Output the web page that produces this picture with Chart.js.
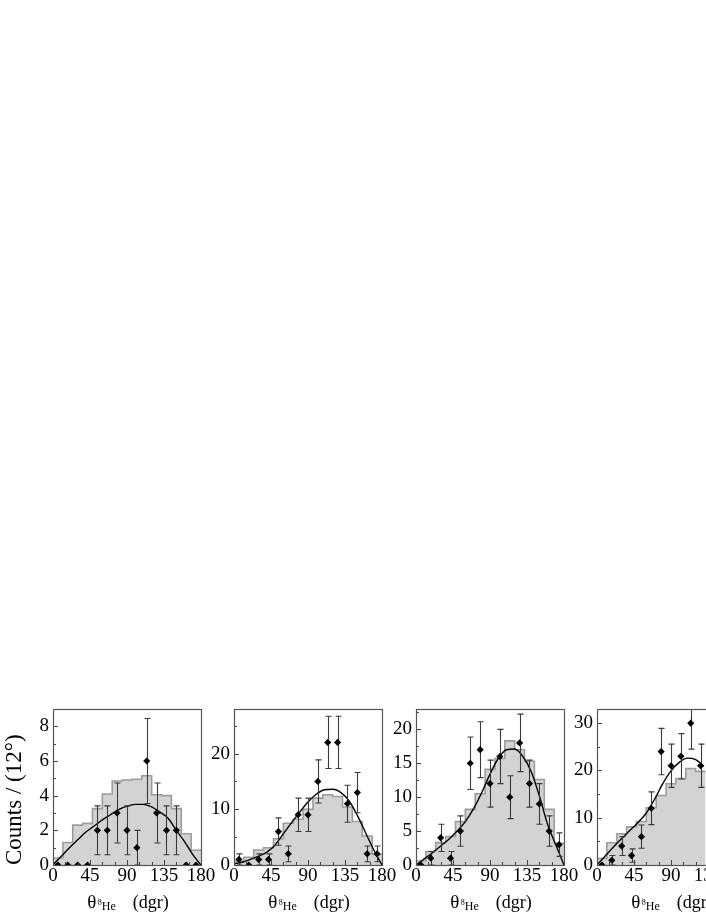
<!DOCTYPE html>
<html><head><meta charset="utf-8">
<script src="https://cdn.jsdelivr.net/npm/chart.js@4/dist/chart.umd.min.js"></script>
<style>
html,body{margin:0;padding:0;background:#fff;width:706px;height:913px;overflow:hidden;position:relative;}
canvas{position:absolute;}
</style></head><body>
<canvas id="c1"></canvas><canvas id="c2"></canvas><canvas id="c3"></canvas><canvas id="c4"></canvas>
<script>
// ---- shared axes ----
const binEdges = [0,12,24,36,48,60,72,84,96,108,120,132,144,156,168,180];
const pointAngles = [6,18,30,42,54,66,78,90,102,114,126,138,150,162,174];
const fitAngles = [0,10,20,30,40,50,60,70,80,90,100,110,120,130,140,150,160,170,180];
const xTickLabels = [0,45,90,135,180];
const yAxisTitle = 'Counts / (12°)';
const xTitleMain = 'θ';
const xTitleSup = '8';
const xTitleSub = 'He';
const xTitleUnit = '(dgr)';

// ---- panel 1 ----
const hist1 = [0.4,1.3,2.3,2.4,3.25,4.1,4.85,4.9,4.95,5.15,4.05,4.0,3.25,1.8,0.85];
const counts1 = [0,0,0,0,2,2,3,2,1,6,3,2,2,0,0];
const err1 = [0,0,0,0,1.41,1.41,1.73,1.41,1,2.45,1.73,1.41,1.41,0,0];
const fit1 = [0,0.5,1.0,1.45,1.9,2.25,2.6,2.9,3.2,3.4,3.5,3.5,3.35,3.05,2.7,2.0,1.35,0.6,0];
const yTicks1 = [0,2,4,6,8];
// ---- panel 2 ----
const hist2 = [0.6,1.4,2.7,3.1,4.7,7.5,8.2,10.0,12.0,12.6,12.3,10.4,7.8,5.2,1.9];
const counts2 = [1,0,1,1,6,2,9,9,15,22,22,11,13,2,2];
const err2 = [1,0,1,1,2.45,1.41,3,3,3.87,4.69,4.69,3.32,3.61,1.41,1.41];
const fit2 = [0.2,0.5,1.0,1.6,2.3,3.6,5.6,7.6,9.5,11.3,12.7,13.5,13.6,13.0,11.5,8.9,5.8,2.7,0];
const yTicks2 = [0,10,20];
// ---- panel 3 ----
const hist3 = [0.6,2.0,3.3,4.2,6.4,8.2,10.5,14.1,15.7,18.3,17.0,15.3,12.6,8.2,3.2];
const counts3 = [0,1,4,1,5,15,17,12,16,10,18,12,9,5,3];
const err3 = [0,1,2,1,2.24,3.87,4.12,3.46,4,3.16,4.24,3.46,3,2.24,1.73];
const fit3 = [0,0.9,1.8,2.8,3.8,5.0,6.4,8.3,10.7,13.4,15.7,17.0,17.1,16.0,13.8,10.2,6.0,3.0,0];
const yTicks3 = [0,5,10,15,20];
// ---- panel 4 (cut at the right edge) ----
const hist4 = [1.4,4.7,6.6,8.1,9.2,12.1,14.7,17.2,18.3,20.4,19.8];
const counts4 = [0,1,4,2,6,12,24,21,23,30,21];
const err4 = [0,1,2,1.41,2.45,3.46,4.9,4.58,4.8,5.48,4.58];
const fit4 = [0,1.9,3.8,5.6,7.3,9.0,11.0,13.9,17.2,19.9,21.7,22.6,22.3,20.9];
const yTicks4 = [0,10,20,30];

const FONT = "'Liberation Serif','Times New Roman',serif";

// bin i spans [edge i, edge i+1]; with stepped 'before' the level of point i is held until point i+1
function histData(h){
  const d = h.map((v,i)=>({x:binEdges[i], y:v}));
  d.push({x:binEdges[h.length], y:h[h.length-1]});
  return d;
}

const panelPlugin = {
  id:'panel',
  beforeDatasetDraw(chart, args){
    if(args.index !== 0) return;
    const o = chart.options.plugins.panel;
    const {ctx, chartArea:a, scales:{x,y}} = chart;
    ctx.save();
    ctx.beginPath(); ctx.rect(a.left, a.top, a.width, a.height); ctx.clip();
    ctx.strokeStyle = '#3a3a3a'; ctx.lineWidth = 1.1;
    o.counts.forEach((c,i)=>{
      const e = o.err[i]; if(!e) return;
      const px = Math.round(x.getPixelForValue(pointAngles[i]))+0.5;
      const y1 = y.getPixelForValue(c-e), y2 = y.getPixelForValue(c+e);
      ctx.beginPath();
      ctx.moveTo(px,y1); ctx.lineTo(px,y2);
      ctx.moveTo(px-3,y1); ctx.lineTo(px+3,y1);
      ctx.moveTo(px-3,y2); ctx.lineTo(px+3,y2);
      ctx.stroke();
    });
    ctx.restore();
  },
  afterDatasetsDraw(chart){
    const o = chart.options.plugins.panel;
    const {ctx, chartArea:a, scales:{x,y}} = chart;
    ctx.save();
    ctx.strokeStyle = '#444'; ctx.lineWidth = 1;
    ctx.beginPath();
    for(let v=0; v<=180; v+=15){
      const px = Math.round(x.getPixelForValue(v))+0.5;
      const L = v%45===0 ? 5 : 3;
      ctx.moveTo(px, a.bottom); ctx.lineTo(px, a.bottom-L);
    }
    for(let v=0; v<=o.ymax+1e-9; v+=o.minor){
      const py = Math.round(y.getPixelForValue(v))+0.5;
      const L = Math.abs(v/o.major - Math.round(v/o.major))<1e-6 ? 5 : 3;
      ctx.moveTo(a.left, py); ctx.lineTo(a.left+L, py);
    }
    ctx.stroke();
    ctx.strokeStyle = '#555'; ctx.lineWidth = 1.2;
    ctx.strokeRect(Math.round(a.left)+0.5, Math.round(a.top)+0.5, Math.round(a.width), Math.round(a.height));
    ctx.restore();
  },
  afterDraw(chart){
    const {ctx, chartArea:a} = chart;
    ctx.save();
    ctx.fillStyle = '#000';
    ctx.textBaseline = 'alphabetic';
    const big = "19px " + FONT, unit = "18px " + FONT, sup = "8px " + FONT, sub = "12px " + FONT;
    ctx.font = big; const w1 = ctx.measureText(xTitleMain).width;
    ctx.font = sup; const w2 = ctx.measureText(xTitleSup).width;
    ctx.font = sub; const w3 = ctx.measureText(xTitleSub).width;
    ctx.font = unit; const w4 = ctx.measureText(xTitleUnit).width;
    const gap = 17;
    const total = w1 + 1.5 + w2 + w3 + gap + w4;
    let cx = (a.left + a.right)/2 - total/2 + 1;
    const base = 218;
    ctx.font = big; ctx.fillText(xTitleMain, cx, base); cx += w1 + 1.5;
    ctx.font = sup; ctx.fillText(xTitleSup, cx, base - 3); cx += w2;
    ctx.font = sub; ctx.fillText(xTitleSub, cx, base + 2); cx += w3 + gap;
    ctx.font = unit; ctx.fillText(xTitleUnit, cx, base);
    ctx.restore();
  }
};

function makePanel(id, left, hist, counts, err, fit, fitX, ymax, yTicks, minor, showTitle){
  const cv = document.getElementById(id);
  const W = 217, H = 223;
  const major = yTicks[1] - yTicks[0];
  cv.width = W; cv.height = H;
  cv.style.width = W+'px'; cv.style.height = H+'px';
  cv.style.left = left+'px'; cv.style.top = '690px';
  new Chart(cv, {
    type:'scatter',
    data:{datasets:[
      {type:'scatter', data: counts.map((c,i)=>({x:pointAngles[i], y:c})),
       pointStyle:'rectRot', pointRadius:3.6, backgroundColor:'#000', borderColor:'#000', borderWidth:0, clip:0, order:0},
      {type:'line', data: fit.map((v,i)=>({x:fitX[i], y:v})), borderColor:'#000', borderWidth:1.4,
       pointRadius:0, tension:0.4, cubicInterpolationMode:'monotone', fill:false, clip:0, order:1},
      {type:'line', data: histData(hist), stepped:'before', borderColor:'#9c9c9c', borderWidth:1.6,
       backgroundColor:'#d3d3d3', fill:'origin', pointRadius:0, clip:0, order:2}
    ]},
    options:{
      responsive:false, animation:false, devicePixelRatio:1,
      layout:{padding:{left:0, right:16, top:19, bottom:0}},
      plugins:{legend:{display:false}, tooltip:{enabled:false},
        panel:{counts, err, ymax, major, minor}},
      scales:{
        x:{type:'linear', min:0, max:180,
          afterFit(s){ s.height = 48; },
          afterBuildTicks(s){ s.ticks = xTickLabels.map(v=>({value:v})); },
          ticks:{autoSkip:false, maxRotation:0, minRotation:0, padding:0, color:'#000', font:{family:FONT, size:19}},
          grid:{display:false, drawTicks:false}, border:{display:false}},
        y:{type:'linear', min:0, max:ymax,
          afterFit(s){ s.width = 53; },
          afterBuildTicks(s){ s.ticks = yTicks.map(v=>({value:v})); },
          ticks:{autoSkip:false, padding:4, color:'#000', font:{family:FONT, size:19}},
          grid:{display:false, drawTicks:false}, border:{display:false},
          title:{display:showTitle, text:yAxisTitle, align:'start', color:'#000', font:{family:FONT, size:23}, padding:{top:1,bottom:0}}}
      }
    },
    plugins:[panelPlugin]
  });
}

makePanel('c1', 0,   hist1, counts1, err1, fit1, fitAngles, 9, yTicks1, 1, true);
makePanel('c2', 181, hist2, counts2, err2, fit2, fitAngles, 28, yTicks2, 5, false);
makePanel('c3', 363, hist3, counts3, err3, fit3, fitAngles, 23, yTicks3, 2.5, false);
makePanel('c4', 544, hist4, counts4, err4, fit4, fitAngles.slice(0, fit4.length), 33, yTicks4, 5, false);
</script>
</body></html>
